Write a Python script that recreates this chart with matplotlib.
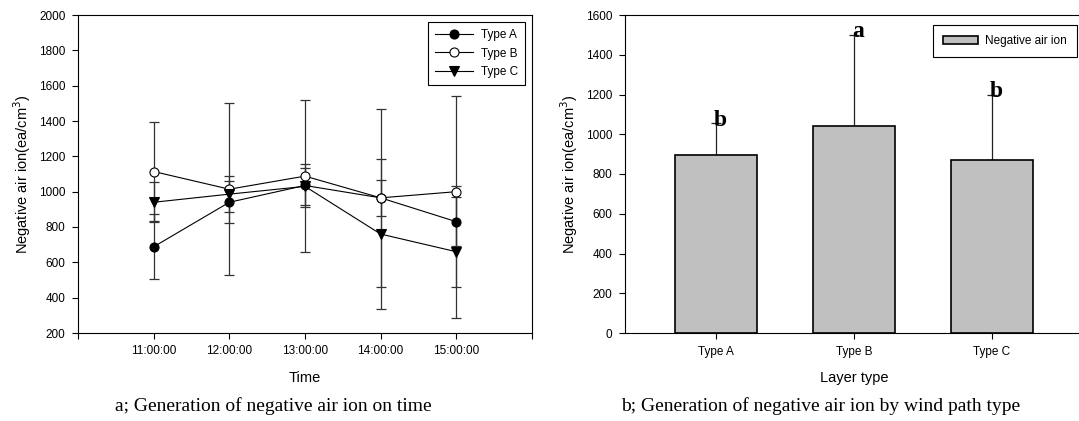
import matplotlib
matplotlib.use('Agg')
import matplotlib.pyplot as plt
import numpy as np

plt.rcParams['font.family'] = ['Liberation Sans', 'DejaVu Sans']

# panel a: ion count over time
times = ['11:00:00', '12:00:00', '13:00:00', '14:00:00', '15:00:00']
type_a = [688, 940, 1035, 965, 830]
type_b = [1114, 1014, 1088, 965, 1000]
type_c = [940, 986, 1030, 760, 660]
err_a = [185, 118, 121, 102, 137]
err_b = [280, 486, 430, 505, 539]
err_c = [112, 100, 103, 424, 373]

# panel b: mean by wind path type
layers = ['Type A', 'Type B', 'Type C']
bar_vals = [896, 1039, 871]
bar_err = [160, 461, 326]
letters = ['b', 'a', 'b']

W, H = 1079, 421
fig = plt.figure(figsize=(W / 100, H / 100), dpi=100)

def frac(x0, y0, x1, y1):
    return [x0 / W, 1 - y1 / H, (x1 - x0) / W, (y1 - y0) / H]

tick_fs = 8.5
lab_fs = 10.5

# ---- left panel
ax1 = fig.add_axes(frac(78, 15, 532, 333))
x = np.arange(1, len(times) + 1)
series = [(type_a, err_a, 'o', 'black', 'Type A'),
          (type_b, err_b, 'o', 'white', 'Type B'),
          (type_c, err_c, 'v', 'black', 'Type C')]
for vals, errs, mk, fc, name in series:
    ax1.errorbar(x, vals, yerr=errs, fmt='none', ecolor='#333333',
                 elinewidth=0.9, capsize=3.8, capthick=0.9)
for vals, errs, mk, fc, name in series:
    ax1.plot(x, vals, color='black', lw=0.8, marker=mk, ms=6.5,
             mfc=fc, mec='black', mew=0.8, label=name)

ax1.set_xlim(0, 6)
ax1.set_ylim(200, 2000)
ax1.set_xticks(range(0, 7))
ax1.set_xticklabels([''] + times + [''])
ax1.set_yticks(range(200, 2001, 200))
ax1.tick_params(direction='out', length=4, width=0.8, labelsize=tick_fs, pad=5)
ax1.set_xlabel('Time', fontsize=lab_fs, labelpad=10)
ax1.set_ylabel('Negative air ion(ea/cm$^3$)', fontsize=lab_fs, labelpad=4)
for s in ax1.spines.values():
    s.set_linewidth(0.8)
leg1 = ax1.legend(loc='upper right', bbox_to_anchor=(525 / W, 1 - 22 / H),
                  bbox_transform=fig.transFigure, fontsize=8.5, frameon=True,
                  fancybox=False, edgecolor='black', framealpha=1,
                  handlelength=3.2, labelspacing=0.55, borderpad=0.6,
                  handletextpad=0.7, borderaxespad=0)
leg1.get_frame().set_linewidth(0.8)

# ---- right panel
ax2 = fig.add_axes(frac(625, 15, 1083, 333))
xb = np.arange(len(layers))
ax2.bar(xb, bar_vals, width=0.6, color='#c0c0c0', edgecolor='black',
        linewidth=1.2, label='Negative air ion', zorder=2)
ax2.errorbar(xb, bar_vals, yerr=[np.zeros(len(bar_err)), bar_err], fmt='none',
             ecolor='#222222', elinewidth=0.9, capsize=3.5, capthick=0.9, zorder=1)
for i, (v, e, t) in enumerate(zip(bar_vals, bar_err, letters)):
    ax2.text(i + 0.03, v + e - 12, t, ha='center', va='baseline',
             fontsize=17, fontweight='bold', family='Liberation Serif', zorder=3)

ax2.set_xlim(-0.66, 2.66)
ax2.set_ylim(0, 1600)
ax2.set_xticks(xb)
ax2.set_xticklabels(layers)
ax2.set_yticks(range(0, 1601, 200))
ax2.tick_params(direction='out', length=4, width=0.8, labelsize=tick_fs, pad=5)
ax2.set_xlabel('Layer type', fontsize=lab_fs, labelpad=10)
ax2.set_ylabel('Negative air ion(ea/cm$^3$)', fontsize=lab_fs, labelpad=4)
for s in ax2.spines.values():
    s.set_linewidth(0.8)
leg2 = ax2.legend(loc='upper right', bbox_to_anchor=(1077 / W, 1 - 25 / H),
                  bbox_transform=fig.transFigure, fontsize=8.5, frameon=True,
                  fancybox=False, edgecolor='black', framealpha=1,
                  handlelength=3.0, handleheight=0.6, borderpad=0.85,
                  handletextpad=0.6, borderaxespad=0)
leg2.get_frame().set_linewidth(0.8)

# captions
fig.text(273 / W, 1 - 406 / H, 'a; Generation of negative air ion on time',
         ha='center', va='center', fontsize=14, family='Liberation Serif')
fig.text(821 / W, 1 - 406 / H, 'b; Generation of negative air ion by wind path type',
         ha='center', va='center', fontsize=14, family='Liberation Serif')

fig.savefig('out.png', dpi=100)
